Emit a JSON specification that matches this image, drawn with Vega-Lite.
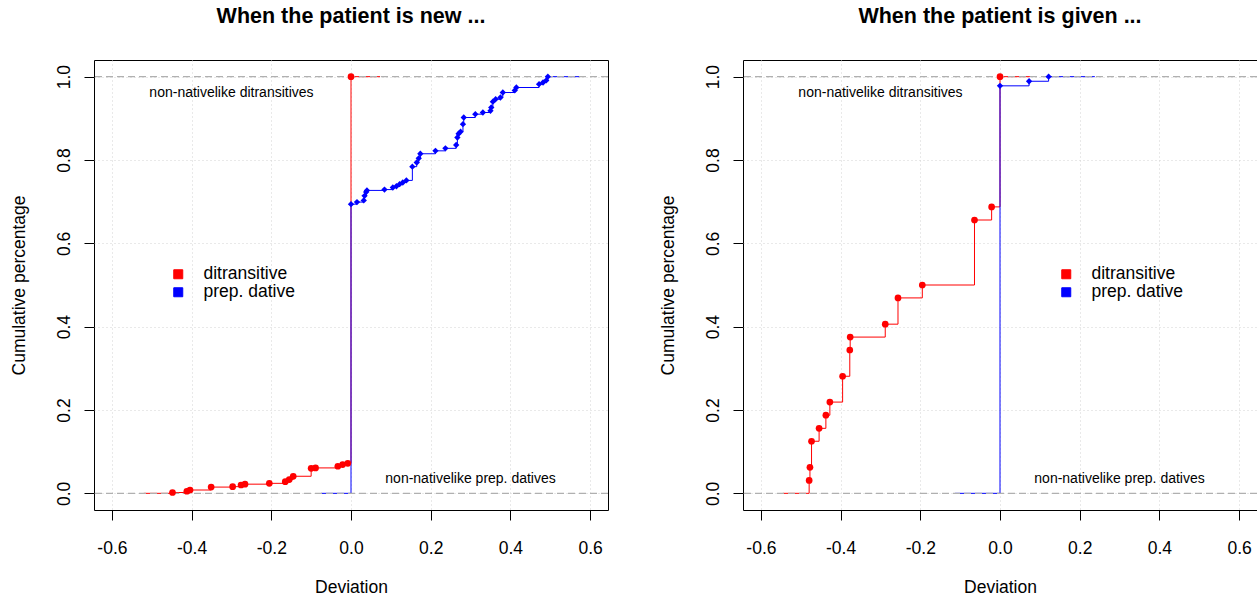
{
  "$schema": "https://vega.github.io/schema/vega-lite/v6.json",
  "autosize": {"type": "pad"},
  "padding": {"left": 9, "top": 5, "right": 0, "bottom": 0},
  "bounds": "flush",
  "spacing": 135,
  "background": "white",
  "config": {
    "font": "Liberation Sans",
    "view": {"stroke": "black", "strokeWidth": 1},
    "axis": {
      "domain": false,
      "tickColor": "black",
      "tickSize": 10,
      "tickWidth": 1,
      "labelFontSize": 17.5,
      "labelColor": "black",
      "labelFont": "Liberation Sans",
      "titleFont": "Liberation Sans",
      "titleFontSize": 17.5,
      "titleFontWeight": "normal",
      "titleColor": "black",
      "grid": true,
      "gridColor": "#d3d3d3",
      "gridDash": [1, 3],
      "gridWidth": 1,
      "labelFlush": false,
      "labelOverlap": false
    },
    "legend": {"title": null, "orient": "none", "symbolType": "square", "symbolSize": 81, "symbolStrokeColor": "black", "symbolStrokeWidth": 1, "symbolOpacity": 1, "labelFontSize": 17.5, "labelFont": "Liberation Sans", "labelColor": "black", "labelOffset": 16.5, "rowPadding": -3.5, "padding": 0},
    "title": {"font": "Liberation Sans", "fontSize": 21.5, "fontWeight": "bold", "color": "black", "anchor": "middle", "frame": "group", "baseline": "alphabetic", "offset": 33}
  },
  "datasets": {
    "ecdf": [
      {"panel": "new", "series": "ditransitive", "x": -0.52, "y": 0, "pt": false},
      {"panel": "new", "series": "ditransitive", "x": -0.448, "y": 0.002, "pt": true},
      {"panel": "new", "series": "ditransitive", "x": -0.412, "y": 0.005, "pt": true},
      {"panel": "new", "series": "ditransitive", "x": -0.404, "y": 0.008, "pt": true},
      {"panel": "new", "series": "ditransitive", "x": -0.351, "y": 0.015, "pt": true},
      {"panel": "new", "series": "ditransitive", "x": -0.297, "y": 0.016, "pt": true},
      {"panel": "new", "series": "ditransitive", "x": -0.276, "y": 0.02, "pt": true},
      {"panel": "new", "series": "ditransitive", "x": -0.266, "y": 0.022, "pt": true},
      {"panel": "new", "series": "ditransitive", "x": -0.205, "y": 0.024, "pt": true},
      {"panel": "new", "series": "ditransitive", "x": -0.165, "y": 0.028, "pt": true},
      {"panel": "new", "series": "ditransitive", "x": -0.155, "y": 0.033, "pt": true},
      {"panel": "new", "series": "ditransitive", "x": -0.145, "y": 0.041, "pt": true},
      {"panel": "new", "series": "ditransitive", "x": -0.1, "y": 0.06, "pt": true},
      {"panel": "new", "series": "ditransitive", "x": -0.089, "y": 0.061, "pt": true},
      {"panel": "new", "series": "ditransitive", "x": -0.033, "y": 0.065, "pt": true},
      {"panel": "new", "series": "ditransitive", "x": -0.021, "y": 0.069, "pt": true},
      {"panel": "new", "series": "ditransitive", "x": -0.008, "y": 0.072, "pt": true},
      {"panel": "new", "series": "ditransitive", "x": 0, "y": 1, "pt": true},
      {"panel": "new", "series": "ditransitive", "x": 0.073, "y": 1, "pt": false},
      {"panel": "new", "series": "prep. dative", "x": -0.075, "y": 0, "pt": false},
      {"panel": "new", "series": "prep. dative", "x": 0, "y": 0.694, "pt": true},
      {"panel": "new", "series": "prep. dative", "x": 0.015, "y": 0.699, "pt": true},
      {"panel": "new", "series": "prep. dative", "x": 0.032, "y": 0.703, "pt": true},
      {"panel": "new", "series": "prep. dative", "x": 0.034, "y": 0.714, "pt": true},
      {"panel": "new", "series": "prep. dative", "x": 0.038, "y": 0.723, "pt": true},
      {"panel": "new", "series": "prep. dative", "x": 0.04, "y": 0.727, "pt": true},
      {"panel": "new", "series": "prep. dative", "x": 0.084, "y": 0.729, "pt": true},
      {"panel": "new", "series": "prep. dative", "x": 0.105, "y": 0.734, "pt": true},
      {"panel": "new", "series": "prep. dative", "x": 0.114, "y": 0.737, "pt": true},
      {"panel": "new", "series": "prep. dative", "x": 0.122, "y": 0.742, "pt": true},
      {"panel": "new", "series": "prep. dative", "x": 0.13, "y": 0.746, "pt": true},
      {"panel": "new", "series": "prep. dative", "x": 0.139, "y": 0.751, "pt": true},
      {"panel": "new", "series": "prep. dative", "x": 0.154, "y": 0.784, "pt": true},
      {"panel": "new", "series": "prep. dative", "x": 0.165, "y": 0.794, "pt": true},
      {"panel": "new", "series": "prep. dative", "x": 0.17, "y": 0.804, "pt": true},
      {"panel": "new", "series": "prep. dative", "x": 0.174, "y": 0.815, "pt": true},
      {"panel": "new", "series": "prep. dative", "x": 0.212, "y": 0.822, "pt": true},
      {"panel": "new", "series": "prep. dative", "x": 0.237, "y": 0.828, "pt": true},
      {"panel": "new", "series": "prep. dative", "x": 0.264, "y": 0.836, "pt": true},
      {"panel": "new", "series": "prep. dative", "x": 0.267, "y": 0.854, "pt": true},
      {"panel": "new", "series": "prep. dative", "x": 0.27, "y": 0.863, "pt": true},
      {"panel": "new", "series": "prep. dative", "x": 0.275, "y": 0.868, "pt": true},
      {"panel": "new", "series": "prep. dative", "x": 0.281, "y": 0.886, "pt": true},
      {"panel": "new", "series": "prep. dative", "x": 0.283, "y": 0.902, "pt": true},
      {"panel": "new", "series": "prep. dative", "x": 0.312, "y": 0.91, "pt": true},
      {"panel": "new", "series": "prep. dative", "x": 0.331, "y": 0.914, "pt": true},
      {"panel": "new", "series": "prep. dative", "x": 0.35, "y": 0.918, "pt": true},
      {"panel": "new", "series": "prep. dative", "x": 0.352, "y": 0.926, "pt": true},
      {"panel": "new", "series": "prep. dative", "x": 0.356, "y": 0.94, "pt": true},
      {"panel": "new", "series": "prep. dative", "x": 0.363, "y": 0.946, "pt": true},
      {"panel": "new", "series": "prep. dative", "x": 0.375, "y": 0.95, "pt": true},
      {"panel": "new", "series": "prep. dative", "x": 0.381, "y": 0.962, "pt": true},
      {"panel": "new", "series": "prep. dative", "x": 0.411, "y": 0.967, "pt": true},
      {"panel": "new", "series": "prep. dative", "x": 0.415, "y": 0.974, "pt": true},
      {"panel": "new", "series": "prep. dative", "x": 0.472, "y": 0.982, "pt": true},
      {"panel": "new", "series": "prep. dative", "x": 0.482, "y": 0.986, "pt": true},
      {"panel": "new", "series": "prep. dative", "x": 0.49, "y": 0.991, "pt": true},
      {"panel": "new", "series": "prep. dative", "x": 0.494, "y": 1, "pt": true},
      {"panel": "new", "series": "prep. dative", "x": 0.574, "y": 1, "pt": false},
      {"panel": "given", "series": "ditransitive", "x": -0.545, "y": 0, "pt": false},
      {"panel": "given", "series": "ditransitive", "x": -0.479, "y": 0.031, "pt": true},
      {"panel": "given", "series": "ditransitive", "x": -0.477, "y": 0.0625, "pt": true},
      {"panel": "given", "series": "ditransitive", "x": -0.473, "y": 0.125, "pt": true},
      {"panel": "given", "series": "ditransitive", "x": -0.454, "y": 0.156, "pt": true},
      {"panel": "given", "series": "ditransitive", "x": -0.437, "y": 0.1875, "pt": true},
      {"panel": "given", "series": "ditransitive", "x": -0.427, "y": 0.219, "pt": true},
      {"panel": "given", "series": "ditransitive", "x": -0.395, "y": 0.281, "pt": true},
      {"panel": "given", "series": "ditransitive", "x": -0.377, "y": 0.344, "pt": true},
      {"panel": "given", "series": "ditransitive", "x": -0.376, "y": 0.375, "pt": true},
      {"panel": "given", "series": "ditransitive", "x": -0.288, "y": 0.406, "pt": true},
      {"panel": "given", "series": "ditransitive", "x": -0.256, "y": 0.469, "pt": true},
      {"panel": "given", "series": "ditransitive", "x": -0.195, "y": 0.5, "pt": true},
      {"panel": "given", "series": "ditransitive", "x": -0.064, "y": 0.656, "pt": true},
      {"panel": "given", "series": "ditransitive", "x": -0.021, "y": 0.6875, "pt": true},
      {"panel": "given", "series": "ditransitive", "x": 0, "y": 1, "pt": true},
      {"panel": "given", "series": "ditransitive", "x": 0.075, "y": 1, "pt": false},
      {"panel": "given", "series": "prep. dative", "x": -0.113, "y": 0, "pt": false},
      {"panel": "given", "series": "prep. dative", "x": 0, "y": 0.978, "pt": true},
      {"panel": "given", "series": "prep. dative", "x": 0.073, "y": 0.989, "pt": true},
      {"panel": "given", "series": "prep. dative", "x": 0.122, "y": 1, "pt": true},
      {"panel": "given", "series": "prep. dative", "x": 0.238, "y": 1, "pt": false}
    ],
    "refs": [{"y": 0}, {"y": 1}],
    "notes": [
      {"label": "non-nativelike ditransitives", "x": -0.3, "y": 0.96},
      {"label": "non-nativelike prep. datives", "x": 0.3, "y": 0.035}
    ]
  },
  "hconcat": [
    {
      "width": 514,
      "height": 450,
      "title": {"text": "When the patient is new ..."},
      "layer": [
        {
          "data": {"name": "ecdf"},
          "transform": [{"filter": "datum.panel === 'new'"}],
          "mark": {"type": "line", "interpolate": "step-after", "strokeWidth": 1},
          "encoding": {
            "x": {"field": "x", "type": "quantitative", "scale": {"domain": [-0.645, 0.645], "nice": false, "zero": false},
              "axis": {"title": "Deviation", "values": [-0.6, -0.4, -0.2, 0, 0.2, 0.4, 0.6], "labelExpr": "datum.value < 0 ? '-' + format(-datum.value, '.1f') : format(datum.value, '.1f')", "labelPadding": 19, "titlePadding": 22}},
            "y": {"field": "y", "type": "quantitative", "scale": {"domain": [-0.04, 1.04], "nice": false, "zero": false},
              "axis": {"title": "Cumulative percentage", "values": [0, 0.2, 0.4, 0.6, 0.8, 1], "format": ".1f", "labelAngle": -90, "labelAlign": "center", "labelBaseline": "bottom", "labelPadding": 11, "titlePadding": 27}},
            "color": {"field": "series", "type": "nominal", "scale": {"domain": ["ditransitive", "prep. dative"], "range": ["#ff0000", "#0000ff"]},
              "legend": {"legendX": 75.5, "legendY": 205.5}}
          }
        },
        {
          "data": {"name": "refs"},
          "mark": {"type": "rule", "color": "#b0b0b0", "strokeDash": [7, 4], "strokeWidth": 1.3},
          "encoding": {"y": {"field": "y", "type": "quantitative"}}
        },
        {
          "data": {"name": "ecdf"},
          "transform": [{"filter": "datum.panel === 'new' && datum.pt && datum.series === 'ditransitive'"}],
          "mark": {"type": "point", "filled": true, "opacity": 1, "shape": "circle", "size": 45},
          "encoding": {
            "x": {"field": "x", "type": "quantitative"},
            "y": {"field": "y", "type": "quantitative"},
            "color": {"field": "series", "type": "nominal", "legend": {"legendX": 75.5, "legendY": 205.5}}
          }
        },
        {
          "data": {"name": "ecdf"},
          "transform": [{"filter": "datum.panel === 'new' && datum.pt && datum.series === 'prep. dative'"}],
          "mark": {"type": "point", "filled": true, "opacity": 1, "shape": "diamond", "size": 40},
          "encoding": {
            "x": {"field": "x", "type": "quantitative"},
            "y": {"field": "y", "type": "quantitative"},
            "color": {"field": "series", "type": "nominal", "legend": {"legendX": 75.5, "legendY": 205.5}}
          }
        },
        {
          "data": {"name": "notes"},
          "mark": {"type": "text", "fontSize": 14, "font": "Liberation Sans", "color": "black", "align": "center", "baseline": "middle"},
          "encoding": {
            "x": {"field": "x", "type": "quantitative"},
            "y": {"field": "y", "type": "quantitative"},
            "text": {"field": "label"}
          }
        }
      ]
    },
    {
      "width": 514,
      "height": 450,
      "title": {"text": "When the patient is given ..."},
      "layer": [
        {
          "data": {"name": "ecdf"},
          "transform": [{"filter": "datum.panel === 'given'"}],
          "mark": {"type": "line", "interpolate": "step-after", "strokeWidth": 1},
          "encoding": {
            "x": {"field": "x", "type": "quantitative", "scale": {"domain": [-0.645, 0.645], "nice": false, "zero": false},
              "axis": {"title": "Deviation", "values": [-0.6, -0.4, -0.2, 0, 0.2, 0.4, 0.6], "labelExpr": "datum.value < 0 ? '-' + format(-datum.value, '.1f') : format(datum.value, '.1f')", "labelPadding": 19, "titlePadding": 22}},
            "y": {"field": "y", "type": "quantitative", "scale": {"domain": [-0.04, 1.04], "nice": false, "zero": false},
              "axis": {"title": "Cumulative percentage", "values": [0, 0.2, 0.4, 0.6, 0.8, 1], "format": ".1f", "labelAngle": -90, "labelAlign": "center", "labelBaseline": "bottom", "labelPadding": 11, "titlePadding": 27}},
            "color": {"field": "series", "type": "nominal", "scale": {"domain": ["ditransitive", "prep. dative"], "range": ["#ff0000", "#0000ff"]},
              "legend": {"legendX": 314.5, "legendY": 205.5}}
          }
        },
        {
          "data": {"name": "refs"},
          "mark": {"type": "rule", "color": "#b0b0b0", "strokeDash": [7, 4], "strokeWidth": 1.3},
          "encoding": {"y": {"field": "y", "type": "quantitative"}}
        },
        {
          "data": {"name": "ecdf"},
          "transform": [{"filter": "datum.panel === 'given' && datum.pt && datum.series === 'ditransitive'"}],
          "mark": {"type": "point", "filled": true, "opacity": 1, "shape": "circle", "size": 45},
          "encoding": {
            "x": {"field": "x", "type": "quantitative"},
            "y": {"field": "y", "type": "quantitative"},
            "color": {"field": "series", "type": "nominal", "legend": {"legendX": 314.5, "legendY": 205.5}}
          }
        },
        {
          "data": {"name": "ecdf"},
          "transform": [{"filter": "datum.panel === 'given' && datum.pt && datum.series === 'prep. dative'"}],
          "mark": {"type": "point", "filled": true, "opacity": 1, "shape": "diamond", "size": 40},
          "encoding": {
            "x": {"field": "x", "type": "quantitative"},
            "y": {"field": "y", "type": "quantitative"},
            "color": {"field": "series", "type": "nominal", "legend": {"legendX": 314.5, "legendY": 205.5}}
          }
        },
        {
          "data": {"name": "notes"},
          "mark": {"type": "text", "fontSize": 14, "font": "Liberation Sans", "color": "black", "align": "center", "baseline": "middle"},
          "encoding": {
            "x": {"field": "x", "type": "quantitative"},
            "y": {"field": "y", "type": "quantitative"},
            "text": {"field": "label"}
          }
        }
      ]
    }
  ],
  "resolve": {"scale": {"color": "independent", "x": "independent", "y": "independent"}, "legend": {"color": "independent"}}
}
